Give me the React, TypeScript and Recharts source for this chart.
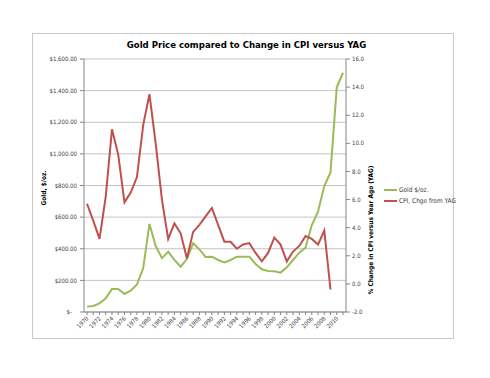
import { LineChart, Line, XAxis, YAxis, CartesianGrid, Legend } from "recharts";

const years = [
  1970, 1971, 1972, 1973, 1974, 1975, 1976, 1977, 1978, 1979,
  1980, 1981, 1982, 1983, 1984, 1985, 1986, 1987, 1988, 1989,
  1990, 1991, 1992, 1993, 1994, 1995, 1996, 1997, 1998, 1999,
  2000, 2001, 2002, 2003, 2004, 2005, 2006, 2007, 2008, 2009,
  2010, 2011,
];

// gold, $/oz. (left axis)
const goldPrice = [
  34, 38, 55, 87, 145, 145, 114, 135, 175, 276,
  557, 417, 341, 381, 329, 287, 335, 434, 396, 348,
  350, 329, 314, 329, 350, 350, 350, 304, 270, 259,
  257, 249, 283, 329, 375, 407, 550, 634, 797, 883,
  1421, 1513,
];

// CPI % change from year ago (right axis)
const cpiChange = [
  5.7, 4.5, 3.2, 6.2, 11.0, 9.2, 5.8, 6.5, 7.6, 11.3,
  13.5, 10.0, 6.0, 3.2, 4.3, 3.6, 1.8, 3.7, 4.2, 4.8,
  5.4, 4.2, 3.0, 3.0, 2.5, 2.8, 2.9, 2.2, 1.6, 2.2,
  3.3, 2.8, 1.6, 2.3, 2.7, 3.4, 3.2, 2.8, 3.8, -0.4,
  null, null,
];

const goldTicks = [0, 200, 400, 600, 800, 1000, 1200, 1400, 1600];
const cpiTicks = [-2, 0, 2, 4, 6, 8, 10, 12, 14, 16];
const seriesOrder = ["Gold $/oz.", "CPI, Chge from YAG"];

const data = years.map((year, i) => ({
  year,
  gold: goldPrice[i],
  cpi: cpiChange[i],
}));

const FONT = "'Liberation Sans Narrow', 'DejaVu Sans Condensed', 'Liberation Sans', sans-serif";
const TEXT = "#404040";

const money = (v: number) =>
  v === 0
    ? "$-\u00a0\u00a0\u00a0"
    : "$" + v.toLocaleString("en-US", { minimumFractionDigits: 2, maximumFractionDigits: 2 });

const YearTick = ({ x, y, payload }: any) => {
  if (payload.value % 2 !== 0) return <g />;
  return (
    <text
      x={x + 2}
      y={y + 2}
      transform={`rotate(-45 ${x + 2} ${y + 2})`}
      textAnchor="end"
      fontSize={6}
      fontFamily={FONT}
      fill={TEXT}
    >
      {payload.value}
    </text>
  );
};

const LegendBox = ({ payload }: any) => {
  const items = [...(payload || [])].sort(
    (a: any, b: any) => seriesOrder.indexOf(a.value) - seriesOrder.indexOf(b.value)
  );
  return (
    <div style={{ fontFamily: FONT, fontSize: 6.5, color: TEXT }}>
      {items.map((p: any) => (
        <div key={p.value} style={{ display: "flex", alignItems: "center", height: 11 }}>
          <span style={{ width: 13, height: 2, background: p.color, marginRight: 2 }} />
          {p.value}
        </div>
      ))}
    </div>
  );
};

export default function App() {
  return (
    <div style={{ position: "absolute", left: 0, top: 0, width: 490, height: 378, background: "#fff" }}>
      {/* chart frame */}
      <div
        style={{
          position: "absolute",
          left: 32,
          top: 33,
          width: 420,
          height: 304,
          border: "1px solid #c8c8c8",
        }}
      />
      <div
        style={{
          position: "absolute",
          left: 0,
          width: 493,
          top: 39,
          textAlign: "center",
          fontFamily: FONT,
          fontWeight: "bold",
          fontSize: 9.5,
          color: "#000",
        }}
      >
        Gold Price compared to Change in CPI versus YAG
      </div>
      <LineChart
        width={490}
        height={378}
        data={data}
        margin={{ top: 59, right: 0, bottom: 26, left: 0 }}
        style={{ position: "absolute", left: 0, top: 0 }}
      >
        <CartesianGrid yAxisId="left" vertical={false} stroke="#c4c4c4" />
        <XAxis
          dataKey="year"
          interval={0}
          height={40}
          padding={{ left: 3, right: 3 }}
          tick={<YearTick />}
          tickSize={3}
          tickMargin={2}
          stroke="#868686"
        />
        <YAxis
          yAxisId="left"
          width={84}
          domain={[0, 1600]}
          ticks={goldTicks}
          tickFormatter={money}
          tickSize={4}
          tickMargin={3}
          stroke="#868686"
          tick={{ fontSize: 6, fontFamily: FONT, fill: TEXT }}
          label={() => (
            <text
              x={46}
              y={188}
              transform="rotate(-90 46 188)"
              textAnchor="middle"
              fontSize={6.5}
              fontWeight="bold"
              fontFamily={FONT}
              fill="#000"
            >
              Gold, $/oz.
            </text>
          )}
        />
        <YAxis
          yAxisId="right"
          orientation="right"
          width={144}
          domain={[-2, 16]}
          ticks={cpiTicks}
          tickFormatter={(v: number) => v.toFixed(1)}
          tickSize={4}
          tickMargin={2}
          stroke="#868686"
          tick={{ fontSize: 6, fontFamily: FONT, fill: TEXT, textAnchor: "start" }}
          label={() => (
            <text
              x={373}
              y={230}
              transform="rotate(-90 373 230)"
              textAnchor="middle"
              fontSize={6.5}
              fontWeight="bold"
              fontFamily={FONT}
              fill="#000"
            >
              % Change in CPI versus Year Ago (YAG)
            </text>
          )}
        />
        <Legend
          layout="vertical"
          align="center"
          verticalAlign="middle"
          content={<LegendBox />}
          wrapperStyle={{ left: 384, top: 184, width: "auto" }}
        />
        <Line
          yAxisId="left"
          dataKey="gold"
          name="Gold $/oz."
          stroke="#9bbb59"
          strokeWidth={2}
          dot={false}
          isAnimationActive={false}
        />
        <Line
          yAxisId="right"
          dataKey="cpi"
          name="CPI, Chge from YAG"
          stroke="#c0504d"
          strokeWidth={2}
          dot={false}
          isAnimationActive={false}
        />
      </LineChart>
    </div>
  );
}
